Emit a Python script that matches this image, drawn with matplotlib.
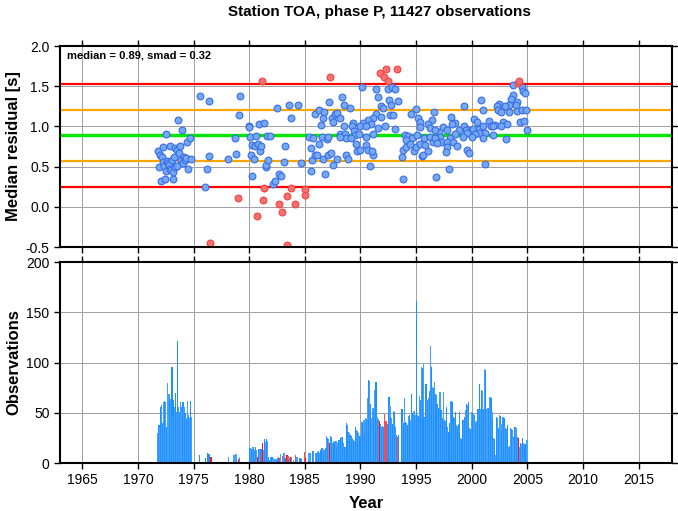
import numpy as np
import matplotlib
matplotlib.use('Agg')
import matplotlib.pyplot as plt

plt.rcParams['font.family'] = ['Liberation Sans', 'DejaVu Sans']

title = "Station TOA, phase P, 11427 observations"
median = 0.89
smad = 0.32

# ---- monthly median residuals (decimal year, seconds) ----
blue_t = [1971.80, 1971.86, 1971.98, 1972.10, 1972.16, 1972.22, 1972.28, 1972.34, 1972.40, 1972.52,
          1972.52, 1972.64, 1972.70, 1972.82, 1972.88, 1972.88, 1973.00, 1973.06, 1973.12, 1973.18,
          1973.24, 1973.30, 1973.36, 1973.48, 1973.48, 1973.57, 1973.72, 1973.78, 1973.90, 1973.98,
          1974.07, 1974.13, 1974.20, 1974.31, 1974.37, 1974.49, 1974.64, 1974.73,
          1975.57, 1976.05, 1976.20, 1976.35, 1976.40, 1978.10, 1978.70, 1978.80, 1979.10, 1979.20, 1979.95,
          1980.03, 1980.09, 1980.15, 1980.27, 1980.27, 1980.45, 1980.51, 1980.63, 1980.81, 1980.87,
          1980.93, 1981.05, 1981.35, 1981.47, 1981.53, 1981.59, 1981.71, 1981.89, 1982.18, 1982.30,
          1982.54, 1982.72, 1982.84, 1983.14, 1983.20, 1983.62, 1983.80, 1984.40, 1984.70, 1985.36,
          1985.54, 1985.60, 1985.66, 1985.78, 1985.96, 1985.96, 1986.08, 1986.26, 1986.32, 1986.44,
          1986.56, 1986.62, 1986.68, 1986.74, 1986.86, 1986.98, 1987.05, 1987.09, 1987.16, 1987.33,
          1987.45, 1987.51, 1987.57, 1987.69, 1987.93, 1987.93, 1988.17,
          1990.18, 1991.38, 1992.52, 1992.82, 1993.12, 1991.62, 1988.38, 1992.58, 1993.41, 1992.76,
          1991.86, 1992.04, 1988.56, 1989.10, 1995.03, 1996.59, 1991.44, 1991.86, 1992.64, 1992.94,
          1994.55, 1995.21, 1996.41, 1991.14, 1990.66, 1989.34, 1990.24, 1990.96, 1995.33, 1996.11,
          1988.50, 1989.22, 1990.00, 1990.54, 1991.56, 1992.22, 1993.11, 1995.33, 1996.23, 1988.15,
          1988.62, 1988.74, 1989.46, 1989.52, 1989.88, 1990.48, 1991.14, 1994.01, 1994.31, 1994.67,
          1995.09, 1995.69, 1996.29, 1996.53, 1988.20, 1989.16, 1989.58, 1989.70, 1990.00, 1990.54,
          1990.72, 1991.14, 1991.02, 1993.83, 1994.07, 1994.13, 1994.43, 1994.79, 1994.97, 1995.39,
          1995.81, 1996.05, 1995.51, 1995.63, 1993.71, 1988.74, 1988.86, 1990.84, 1993.83,
          2003.75, 2004.52, 2004.64, 2004.76, 2003.69, 2003.51, 2000.87, 2004.05, 2003.99, 1999.31,
          2000.99, 2002.49, 2003.33, 2002.99, 2002.25, 2002.37, 2002.61, 2003.39, 2004.11, 2004.52,
          2004.88, 2004.34, 2004.70, 2004.94, 1998.12, 2000.21, 2000.45, 2001.59, 2002.13, 2002.79,
          2003.21, 1998.48, 1998.24, 1997.40, 1997.76, 1997.04, 1996.68, 1999.31, 1999.49, 1999.91,
          2000.15, 2000.63, 2001.05, 2001.71, 2001.95, 2002.67, 1998.84, 1999.55, 2000.69, 2001.23,
          1998.54, 2000.27, 2001.05, 2001.95, 2000.03, 1999.19, 1998.06, 1997.16, 1996.68, 1997.28,
          1996.92, 1997.82, 1998.30, 1998.72, 1997.82, 1999.61, 1999.73, 2003.09, 1997.70, 2001.23,
          1997.94, 1996.80]
blue_v = [0.69, 0.50, 0.64, 0.32, 0.62, 0.75, 0.56, 0.51, 0.35, 0.91,
          0.45, 0.57, 0.54, 0.52, 0.76, 0.47, 0.46, 0.58, 0.35, 0.43,
          0.62, 0.73, 0.49, 0.71, 0.51, 1.08, 0.67, 0.76, 0.58, 0.95,
          0.54, 0.62, 0.58, 0.61, 0.80, 0.47, 0.85, 0.60,
          1.38, 0.25, 0.47, 1.32, 0.63, 0.60, 0.85, 0.66, 1.14, 1.38, 1.00,
          0.99, 0.87, 0.65, 0.77, 0.38, 0.60, 0.76, 0.88, 0.78, 1.03,
          0.69, 0.76, 1.04, 0.50, 0.52, 0.88, 0.58, 0.88, 0.28, 0.32,
          1.23, 0.41, 0.38, 0.56, 0.76, 1.26, 1.11, 1.27, 0.55, 0.87,
          0.45, 0.73, 0.58, 0.86, 1.16, 0.65, 0.65, 1.20, 0.78, 1.02,
          0.87, 0.59, 1.10, 1.18, 0.41, 0.84, 0.87, 0.65, 1.30, 0.67,
          1.11, 1.05, 0.52, 1.16, 1.17, 0.60, 1.10,
          1.49, 1.47, 1.47, 1.49, 1.47, 1.37, 1.37, 1.33, 1.32, 1.27,
          1.25, 1.23, 1.26, 1.23, 1.22, 1.18, 1.16, 1.12, 1.14, 1.14,
          1.16, 1.10, 1.08, 1.10, 1.08, 1.04, 1.04, 1.03, 1.05, 1.03,
          1.01, 1.00, 1.00, 1.01, 0.98, 1.01, 0.97, 0.99, 0.98, 0.91,
          0.91, 0.86, 0.94, 0.89, 0.91, 0.87, 0.90, 0.89, 0.88, 0.85,
          0.89, 0.85, 0.87, 0.80, 0.87, 0.85, 0.78, 0.69, 0.71, 0.77,
          0.71, 0.65, 0.69, 0.71, 0.75, 0.83, 0.78, 0.69, 0.74, 0.78,
          0.77, 0.69, 0.63, 0.65, 0.62, 0.64, 0.59, 0.51, 0.34,
          1.52, 1.49, 1.44, 1.41, 1.39, 1.34, 1.33, 1.30, 1.27, 1.25,
          1.21, 1.28, 1.27, 1.25, 1.25, 1.20, 1.18, 1.18, 1.19, 1.21,
          1.21, 1.06, 1.07, 0.95, 1.12, 1.09, 1.05, 1.07, 1.02, 1.05,
          1.03, 1.04, 1.03, 0.99, 0.95, 0.93, 0.96, 1.01, 0.96, 0.96,
          0.97, 0.97, 1.00, 1.00, 1.01, 1.01, 0.95, 0.92, 0.92, 0.92,
          0.91, 0.90, 0.85, 0.89, 0.87, 0.87, 0.85, 0.87, 0.85, 0.81,
          0.79, 0.81, 0.81, 0.76, 0.75, 0.71, 0.67, 0.84, 0.68, 0.53,
          0.47, 0.37]

red_t = [1976.50, 1979.00, 1980.69, 1981.11, 1981.23, 1981.29, 1982.66, 1982.96, 1983.38, 1983.44,
         1983.74, 1984.16, 1985.00, 1985.06, 1987.30, 1991.74, 1992.16, 1992.34, 1992.46, 1993.30,
         2004.18, 2004.22]
red_v = [-0.45, 0.11, -0.12, 1.56, 0.08, 0.23, 0.04, -0.06, 0.13, -0.48,
         0.23, 0.03, 0.15, 0.22, 1.62, 1.67, 1.61, 1.72, 1.56, 1.72,
         1.54, 1.56]

# ---- monthly observation counts, Jan 1971 onwards ----
counts_1971_1979 = [
    0, 0, 0, 0, 0, 0, 0, 0, 0, 30, 38, 36,
    56, 58, 40, 61, 62, 61, 36, 80, 62, 69, 62, 64,
    96, 46, 63, 56, 70, 51, 121, 56, 51, 61, 56, 51,
    61, 56, 50, 45, 43, 62, 48, 45, 62, 46, 0, 0,
    0, 0, 0, 0, 0, 0, 8, 0, 0, 0, 0, 0,
    5, 0, 10, 0, 9, 0, 6, 0, 0, 0, 0, 0,
    0, 0, 0, 0, 0, 0, 0, 0, 0, 0, 0, 0,
    0, 6, 0, 0, 0, 0, 0, 8, 0, 9, 0, 0,
    4, 6, 0, 0, 0, 0, 0, 0, 0, 0, 0, 0]
counts_1980_1989 = [
    15, 15, 14, 16, 16, 13, 16, 13, 6, 13, 14, 14,
    14, 10, 20, 13, 24, 21, 24, 22, 6, 3, 0, 6,
    6, 5, 0, 4, 0, 4, 5, 6, 5, 9, 0, 7,
    0, 10, 5, 0, 8, 7, 0, 5, 6, 6, 0, 3,
    0, 8, 0, 6, 0, 0, 5, 0, 4, 0, 0, 11,
    5, 0, 0, 10, 9, 10, 0, 0, 12, 11, 0, 10,
    10, 11, 12, 10, 13, 12, 15, 14, 10, 13, 15, 27,
    25, 24, 20, 27, 26, 20, 21, 22, 20, 22, 16, 20,
    23, 22, 25, 26, 26, 20, 16, 16, 40, 38, 31, 30,
    28, 26, 27, 25, 23, 22, 36, 33, 32, 30, 27, 28]
counts_1990_1999 = [
    26, 41, 40, 43, 30, 45, 44, 65, 83, 82, 59, 45,
    54, 55, 52, 73, 81, 46, 43, 44, 42, 39, 36, 37,
    36, 49, 33, 42, 39, 39, 66, 57, 46, 45, 39, 52,
    51, 36, 28, 26, 28, 0, 0, 0, 54, 41, 40, 65,
    41, 40, 38, 47, 48, 43, 69, 49, 50, 52, 47, 48,
    161, 48, 47, 67, 63, 96, 95, 99, 46, 45, 79, 63,
    62, 65, 72, 116, 96, 76, 75, 81, 69, 68, 59, 54,
    55, 71, 53, 46, 45, 71, 43, 42, 56, 36, 31, 30,
    40, 62, 61, 39, 46, 45, 51, 38, 37, 39, 51, 25,
    24, 25, 43, 42, 46, 53, 59, 58, 61, 35, 34, 51]
counts_2000_2004 = [
    50, 49, 48, 41, 40, 42, 54, 53, 79, 54, 73, 72,
    54, 94, 93, 54, 53, 55, 54, 66, 65, 51, 43, 25,
    24, 8, 46, 45, 35, 48, 47, 39, 33, 46, 45, 36,
    35, 34, 38, 16, 17, 35, 34, 33, 26, 24, 36, 35,
    26, 25, 25, 16, 20, 19, 25, 20, 19, 19, 18, 23]
first_year = 1971
# months whose median is an outlier (drawn red)
red_months = [(1976, 7), (1979, 1), (1980, 9), (1981, 2), (1981, 3), (1982, 8), (1982, 12),
              (1983, 5), (1983, 6), (1983, 9), (1984, 2), (1984, 12), (1985, 1), (1987, 3),
              (1991, 9), (1992, 2), (1992, 4), (1992, 6), (1993, 4), (2004, 3)]

counts = counts_1971_1979 + counts_1980_1989 + counts_1990_1999 + counts_2000_2004
month_idx = np.arange(len(counts))
bar_t = first_year + month_idx / 12.0
red_set = {(y - first_year) * 12 + (m - 1) for y, m in red_months}
bar_colors = []
for i in month_idx:
    if i in red_set:
        bar_colors.append('#ff1010' if i % 2 == 0 else '#ff4a4a')
    else:
        bar_colors.append('#1e90ff' if i % 2 == 0 else '#45a1ff')

W, H = 678, 511
fig = plt.figure(figsize=(W / 100, H / 100), dpi=100)
ax1 = fig.add_axes([60 / W, 1 - 247 / H, 612 / W, 201 / H])
ax2 = fig.add_axes([60 / W, 1 - 463 / H, 612 / W, 201 / H])

xlim = (1963, 2018)
xticks = np.arange(1965, 2016, 5)

# top panel
for lvl, col, lw in [(median + 2 * smad, '#ff0000', 1.6), (median - 2 * smad, '#ff0000', 1.6),
                     (median + smad, '#ffa500', 1.6), (median - smad, '#ffa500', 1.6),
                     (median, '#00e600', 2.4)]:
    ax1.axhline(lvl, color=col, lw=lw, zorder=2)
ax1.scatter(blue_t, blue_v, s=24, facecolor='#74a8f2', edgecolor='#3a6de8', lw=0.8, zorder=3)
ax1.scatter(red_t, red_v, s=24, facecolor='#f87070', edgecolor='#f04444', lw=0.8, zorder=3)
ax1.set_ylim(-0.5, 2.0)
ax1.set_yticks([-0.5, 0.0, 0.5, 1.0, 1.5, 2.0])
ax1.set_yticklabels(['-0.5', '0.0', '0.5', '1.0', '1.5', '2.0'])
ax1.text(0.012, 0.955, f"median = {median:.2f}, smad = {smad:.2f}", transform=ax1.transAxes,
         fontsize=8, fontweight='bold', va='center', ha='left')

# bottom panel (bars slightly wider than a month so no white seams appear)
ax2.bar(bar_t, counts, width=0.12, align='edge', color=bar_colors, linewidth=0, zorder=2)
ax2.set_ylim(0, 200)
ax2.set_yticks([0, 50, 100, 150, 200])

for ax in (ax1, ax2):
    ax.set_xlim(*xlim)
    ax.set_xticks(xticks)
    ax.grid(True, color='#a0a0a0', lw=0.7, zorder=0)
    ax.set_axisbelow(True)
    for s in ax.spines.values():
        s.set_linewidth(1.5)
        s.set_zorder(4)
    ax.tick_params(direction='out', length=4, width=1, top=True, right=True,
                   labeltop=False, labelright=False, labelsize=10)
ax1.tick_params(labelbottom=False)

fig.text(379 / W, 1 - 12 / H, title, ha='center', va='center', fontsize=11, fontweight='bold')
fig.text(14 / W, 1 - 146.5 / H, 'Median residual [s]', rotation=90, ha='center', va='center',
         fontsize=12, fontweight='bold')
fig.text(14 / W, 1 - 362.5 / H, 'Observations', rotation=90, ha='center', va='center',
         fontsize=12, fontweight='bold')
fig.text(366 / W, 1 - 503 / H, 'Year', ha='center', va='center', fontsize=12, fontweight='bold')

fig.savefig('out.png', dpi=100)
